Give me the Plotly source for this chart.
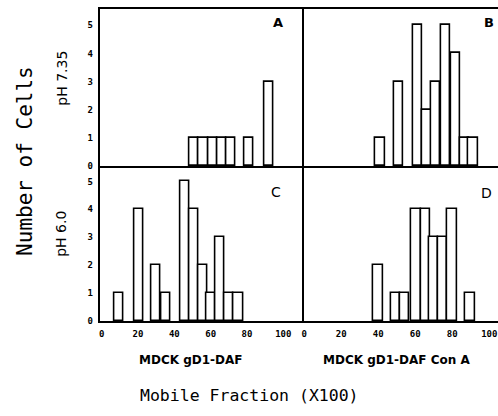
import plotly.graph_objects as go

# ---- data (bin centres, counts) ----
a_x = [51, 56, 61, 66, 71, 81, 92]
a_y = [1, 1, 1, 1, 1, 1, 3]
b_x = [41, 51, 61.5, 66.5, 71.2, 76.5, 81.7, 86.5, 91.3]
b_y = [1, 3, 5, 2, 3, 5, 4, 1, 1]
c_x = [9.6, 20.4, 30.1, 35.4, 46, 51, 55.7, 60.2, 65.2, 70.2, 75.3]
c_y = [1, 4, 2, 1, 5, 4, 2, 1, 3, 1, 1]
d_x = [40, 49.3, 54.3, 60.5, 65.5, 70.1, 74.8, 80, 89.6]
d_y = [2, 1, 1, 4, 4, 3, 3, 4, 1]

x_ticks = [0, 20, 40, 60, 80, 100]
y_ticks = [0, 1, 2, 3, 4, 5]

W, H = 498, 416
def px(x): return x / W
def py(y): return 1 - y / H

fig = go.Figure()
bar_style = dict(marker=dict(color="white", line=dict(color="black", width=1.6)),
                 width=5, showlegend=False, hoverinfo="skip")
fig.add_trace(go.Bar(x=a_x, y=a_y, xaxis="x", yaxis="y", **bar_style))
fig.add_trace(go.Bar(x=b_x, y=b_y, xaxis="x2", yaxis="y2", **bar_style))
fig.add_trace(go.Bar(x=c_x, y=c_y, xaxis="x3", yaxis="y3", **bar_style))
fig.add_trace(go.Bar(x=d_x, y=d_y, xaxis="x4", yaxis="y4", **bar_style))

left_dom = [px(98), px(303)]
right_dom = [px(303), 1.0]
top_dom = [py(168), py(9)]
bot_dom = [py(325), py(168)]

tickfont = dict(family="DejaVu Sans Mono", size=9, color="black", weight="bold")
line = dict(showline=True, linecolor="black", linewidth=1.6, showgrid=False,
            zeroline=False, ticks="")

left_xr = [-0.7, 111.5]
right_xr = [0, 104.7]

fig.update_layout(
    width=W, height=H, margin=dict(l=0, r=0, t=0, b=0),
    paper_bgcolor="white", plot_bgcolor="white", bargap=0,
    xaxis=dict(domain=left_dom, anchor="y", range=left_xr, showticklabels=False, mirror=True, **line),
    yaxis=dict(domain=top_dom, anchor="x", range=[0, 5.58], tickvals=y_ticks,
               tickfont=tickfont, ticklabelstandoff=4, **line),
    xaxis2=dict(domain=right_dom, anchor="y2", range=right_xr, showticklabels=False, mirror=True, **line),
    yaxis2=dict(domain=top_dom, anchor="x2", range=[0, 5.58], showticklabels=False, **line),
    xaxis3=dict(domain=left_dom, anchor="y3", range=left_xr, tickvals=x_ticks,
                tickfont=tickfont, ticklabelstandoff=3, **line),
    yaxis3=dict(domain=bot_dom, anchor="x3", range=[0, 5.55], tickvals=y_ticks,
                tickfont=tickfont, ticklabelstandoff=4, **line),
    xaxis4=dict(domain=right_dom, anchor="y4", range=right_xr, tickvals=x_ticks,
                tickfont=tickfont, ticklabelstandoff=3, **line),
    yaxis4=dict(domain=bot_dom, anchor="x4", range=[0, 5.55], showticklabels=False, **line),
)

def ann(text, x, y, size, family="DejaVu Sans", weight="normal", angle=0, xanchor="center"):
    fig.add_annotation(text=text, x=px(x), y=py(y), xref="paper", yref="paper",
                       showarrow=False, textangle=angle, xanchor=xanchor, yanchor="middle",
                       font=dict(family=family, size=size, color="black", weight=weight))

ann("A", 277, 23, 13, weight="bold")
ann("B", 489, 23, 13, weight="bold")
ann("C", 275, 194, 14)
ann("D", 486, 195, 14)
ann("Number of Cells", 22, 163, 21, family="DejaVu Sans Mono", angle=-90)
ann("pH 7.35", 59, 79, 14, angle=-90)
ann("pH 6.0", 59, 237, 14, angle=-90)
ann("MDCK gD1-DAF", 135, 364, 12, weight="bold", xanchor="left")
ann("MDCK gD1-DAF Con A", 320, 364, 12, weight="bold", xanchor="left")
ann("Mobile Fraction (X100)", 248, 400, 16.5, family="DejaVu Sans Mono")

fig.write_html("out.html")
